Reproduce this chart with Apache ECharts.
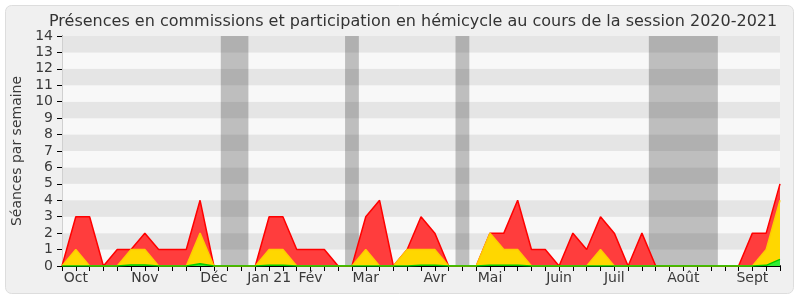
<!DOCTYPE html>
<html>
<head>
<meta charset="utf-8">
<script src="https://cdn.jsdelivr.net/npm/echarts@6/dist/echarts.min.js"></script>
<style>
html,body{margin:0;padding:0;background:#ffffff;}
#chart{width:800px;height:300px;}
</style>
</head>
<body>
<div id="chart"></div>
<script>
// Week indices 0..52 (session Oct 2020 - Sept 2021)
var weeks = [];
for (var w = 0; w <= 52; w++) weeks.push(w);

// Month labels at week index
var monthWeeks  = [1, 6, 11, 15, 18, 22, 27, 31, 36, 40, 45, 50];
var monthLabels = ['Oct', 'Nov', 'Déc', 'Jan 21', 'Fév', 'Mar', 'Avr', 'Mai', 'Juin', 'Juil', 'Août', 'Sept'];

// Total presences (red)
var presences = [0,3,3,0,1,1,2,1,1,1,4,0,0,0,0,3,3,1,1,1,0,0,3,4,0,1,3,2,0,0,0,2,2,4,1,1,0,2,1,3,2,0,2,0,0,0,0,0,0,0,2,2,5];
// Commission presences (yellow)
var commissions = [0,1,0,0,0,1,1,0,0,0,2,0,0,0,0,1,1,0,0,0,0,0,1,0,0,1,1,1,0,0,0,2,1,1,0,0,0,0,0,1,0,0,0,0,0,0,0,0,0,0,0,1,4];
// Hemicycle participation (green)
var hemicycle = [0,0,0,0,0,0.06,0.06,0,0,0,0.14,0,0,0,0,0.05,0.05,0,0,0,0,0,0,0,0,0,0.05,0.05,0,0,0,0.05,0.05,0.05,0,0,0,0,0,0,0,0,0,0,0,0,0,0,0,0,0,0.04,0.4];
// Recess periods (gray bands), in week units
var recessStart = [11.5, 20.5, 28.5, 42.5];
var recessEnd   = [13.5, 21.5, 29.5, 47.5];

var title = 'Présences en commissions et participation en hémicycle au cours de la session 2020-2021';
var yName = 'Séances par semaine';

function pairs(arr){ return weeks.map(function(w){ return [w, arr[w]]; }); }

var monthMap = {};
monthWeeks.forEach(function(w, i){ monthMap[w] = monthLabels[i]; });

var font = 'DejaVu Sans';
var chart = echarts.init(document.getElementById('chart'), null, {renderer:'canvas'});
chart.setOption({
  animation: false,
  backgroundColor: 'transparent',
  graphic: [{
    type: 'rect', z: -10, silent: true,
    shape: {x: 5.5, y: 5.5, width: 788, height: 288, r: 6},
    style: {fill: '#f0f0f0', stroke: '#dddddd', lineWidth: 1}
  }],
  title: {
    text: title, left: 44, top: 9,
    textStyle: {fontFamily: font, fontSize: 16, fontWeight: 'normal', color: '#333333'}
  },
  grid: {left: 62, right: 20, top: 36, bottom: 34, containLabel: false},
  xAxis: [{
    type: 'value', min: 0, max: 52, interval: 1,
    axisLine: {show: true, onZero: false, lineStyle: {color: '#000000', width: 1}},
    axisTick: {show: true, length: 5, lineStyle: {color: '#000000'}},
    splitLine: {show: false},
    axisLabel: {
      show: true, margin: 5, showMinLabel: true, showMaxLabel: true,
      fontFamily: font, fontSize: 14, color: '#3a3a3a',
      formatter: function(v){ return monthMap[v] || ''; }
    }
  }, {
    type: 'value', position: 'top', min: 0, max: 52, interval: 1,
    axisLine: {show: false},
    axisTick: {show: true, length: 1, inside: false, lineStyle: {color: '#444444'}},
    axisLabel: {show: false}, splitLine: {show: false}
  }],
  yAxis: [{
    type: 'value', min: 0, max: 14, interval: 1,
    name: yName, nameLocation: 'middle', nameGap: 38,
    nameTextStyle: {fontFamily: font, fontSize: 14, color: '#3a3a3a'},
    axisLine: {show: true, lineStyle: {color: '#000000'}},
    axisTick: {show: true, length: 5, lineStyle: {color: '#000000'}},
    axisLabel: {margin: 9, fontFamily: font, fontSize: 14, color: '#3a3a3a'},
    splitLine: {show: false},
    splitArea: {show: true, areaStyle: {color: ['#f8f8f8', '#e5e5e5']}}
  }, {
    type: 'value', position: 'right', min: 0, max: 14, interval: 1,
    axisLine: {show: true, lineStyle: {color: '#d0d0d0'}},
    axisTick: {show: false}, axisLabel: {show: false}, splitLine: {show: false}
  }],
  series: [{
    type: 'line', name: 'recess', data: [], z: 1, silent: true,
    markArea: {
      silent: true,
      itemStyle: {color: 'rgba(0,0,0,0.23)'},
      data: recessStart.map(function(s, i){ return [{xAxis: s}, {xAxis: recessEnd[i]}]; })
    }
  }, {
    type: 'line', name: 'Présences', data: pairs(presences), z: 3,
    showSymbol: false, symbol: 'none',
    lineStyle: {color: '#ff0000', width: 1.5},
    areaStyle: {color: '#ff3d3d', opacity: 1}
  }, {
    type: 'line', name: 'Commissions', data: pairs(commissions), z: 4,
    showSymbol: false, symbol: 'none',
    lineStyle: {color: '#ffcc00', width: 1.5},
    areaStyle: {color: '#ffd700', opacity: 1}
  }, {
    type: 'line', name: 'Hémicycle', data: pairs(hemicycle), z: 5,
    showSymbol: false, symbol: 'none',
    lineStyle: {color: '#00cc00', width: 1.5},
    areaStyle: {color: '#33ee33', opacity: 1}
  }]
});
</script>
</body>
</html>
